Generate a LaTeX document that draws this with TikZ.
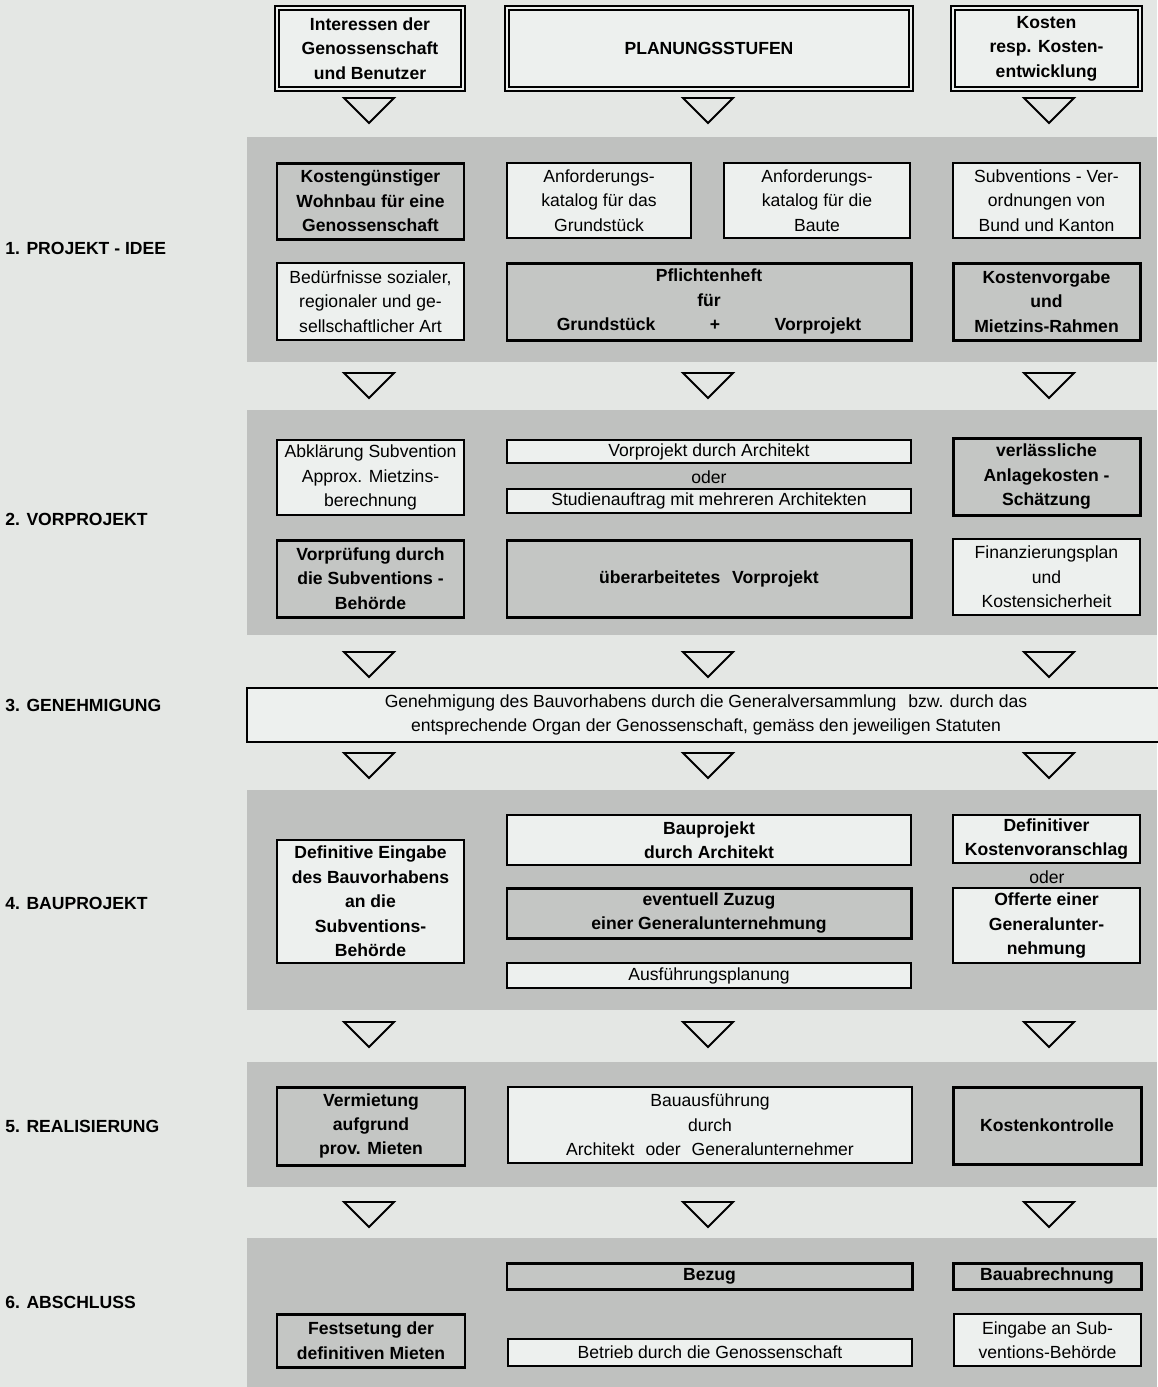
\documentclass[tikz,border=0pt]{standalone}
\usepackage{fontspec}
\setmainfont{Liberation Sans}
\definecolor{bgc}{HTML}{E4E7E4}
\definecolor{bandc}{HTML}{BFC1BF}
\definecolor{litec}{HTML}{EDF0EE}
\definecolor{heavyc}{HTML}{C4C6C4}
\newcommand\bx[7]{\node[#6, minimum width={(#4-#2)*0.02cm}, minimum height={(#5-#3)*0.02cm}] (#1) at ({(#2+#4)/2},{(#3+#5)/2}) {#7};}
\begin{document}
\begin{tikzpicture}[x=0.02cm,y=-0.02cm,
  txt/.style={font=\fontsize{10}{13.9}\selectfont, align=center, inner sep=0pt, outer sep=0pt},
  lite/.style={txt, draw, line width=0.85pt, fill=litec},
  heavy/.style={txt, draw, line width=1.7pt, fill=heavyc},
  dbl/.style={txt, draw, line width=0.8pt, double=litec, double distance=1.6pt, fill=litec},
  bf/.style={font=\bfseries\fontsize{10}{13.9}\selectfont},
  bandbox/.style={fill=bandc},
  phase/.style={font=\bfseries\fontsize{10}{12}\selectfont, anchor=west, inner sep=0pt},
  dtri/.pic={\draw[line width=1.1pt, line join=miter] (-25,0) -- (25,0) -- (0,25) -- cycle;}
]
\useasboundingbox (0,0) rectangle (1157,1387);
\fill[bgc] (0,0) rectangle (1157,1387);
% bands
\fill[bandbox] (247,137) rectangle (1157,362);
\fill[bandbox] (247,410) rectangle (1157,635);
\fill[bandbox] (247,790) rectangle (1157,1010);
\fill[bandbox] (247,1062) rectangle (1157,1187);
\fill[bandbox] (247,1238) rectangle (1157,1387);

% top row
\bx{top1}{277}{8}{463}{89}{dbl, bf}{Interessen der\\Genossenschaft\\und Benutzer}
\bx{top2}{507}{8}{911}{89}{dbl, bf}{PLANUNGSSTUFEN}
\bx{top3}{953}{8}{1140}{89}{dbl, bf}{Kosten\\resp. Kosten-\\entwicklung}

% triangles
\foreach \yy/\nm in {98/a,373/b,652/c,753/d,1022/e,1202/f}{
  \pic (tl\nm) at (369,\yy) {dtri};
  \pic (tm\nm) at (708,\yy) {dtri};
  \pic (tr\nm) at (1049,\yy) {dtri};
}

% phase labels
\node[phase] (p1) at (5,248) {1. PROJEKT - IDEE};
\node[phase] (p2) at (5,519) {2. VORPROJEKT};
\node[phase] (p3) at (5,705) {3. GENEHMIGUNG};
\node[phase] (p4) at (5,903) {4. BAUPROJEKT};
\node[phase] (p5) at (5,1126) {5. REALISIERUNG};
\node[phase] (p6) at (5,1302) {6. ABSCHLUSS};

% band 1
\bx{a1}{277}{163}{464}{239}{heavy, bf}{Kostengünstiger\\Wohnbau für eine\\Genossenschaft}
\bx{a2}{507}{163}{691}{238}{lite}{Anforderungs-\\katalog für das\\Grundstück}
\bx{a3}{724}{163}{910}{238}{lite}{Anforderungs-\\katalog für die\\Baute}
\bx{a4}{953}{163}{1140}{238}{lite}{Subventions - Ver-\\ordnungen von\\Bund und Kanton}
\bx{b1}{277}{263}{464}{340}{lite}{Bedürfnisse sozialer,\\regionaler und ge-\\sellschaftlicher Art}
\bx{b2}{507}{263}{911}{340}{heavy, bf}{Pflichtenheft\\für\\Grundstück\hspace{31pt}+\hspace{31pt}Vorprojekt}
\bx{b3}{953}{263}{1140}{340}{heavy, bf}{Kostenvorgabe\\und\\Mietzins-Rahmen}

% band 2
\bx{c1}{277}{440}{464}{515}{lite}{Abklärung Subvention\\Approx. Mietzins-\\berechnung}
\bx{c2a}{507}{440}{911}{463}{lite}{Vorprojekt durch Architekt}
\node[txt] (c2o) at (709,477) {oder};
\bx{c2b}{507}{489}{911}{513}{lite}{Studienauftrag mit mehreren Architekten}
\bx{c3}{953}{438}{1140}{515}{heavy, bf}{verlässliche\\Anlagekosten -\\Schätzung}
\bx{d1}{277}{540}{464}{617}{heavy, bf}{Vorprüfung durch\\die Subventions -\\Behörde}
\bx{d2}{507}{540}{911}{617}{heavy, bf}{überarbeitetes\hspace{0.4em} Vorprojekt}
\bx{d3}{953}{539}{1140}{615}{lite}{Finanzierungsplan\\und\\Kostensicherheit}

% Genehmigung
\bx{gen}{247}{688}{1165}{742}{lite}{Genehmigung des Bauvorhabens durch die Generalversammlung\hspace{0.4em} bzw. durch das\\entsprechende Organ der Genossenschaft, gemäss den jeweiligen Statuten}

% band 3
\bx{e1}{277}{840}{464}{963}{lite, bf}{Definitive Eingabe\\des Bauvorhabens\\an die\\Subventions-\\Behörde}
\bx{e2a}{507}{815}{911}{865}{lite, bf}{Bauprojekt\\durch Architekt}
\bx{e2b}{507}{888}{911}{938}{heavy, bf}{eventuell Zuzug\\einer Generalunternehmung}
\bx{e2c}{507}{963}{911}{988}{lite}{Ausführungsplanung}
\bx{e3a}{953}{815}{1140}{863}{lite, bf}{Definitiver\\Kostenvoranschlag}
\node[txt] (e3o) at (1047,877) {oder};
\bx{e3b}{953}{888}{1140}{963}{lite, bf}{Offerte einer\\Generalunter-\\nehmung}

% band 4
\bx{f1}{277}{1087}{465}{1165}{heavy, bf}{Vermietung\\aufgrund\\prov. Mieten}
\bx{f2}{508}{1087}{912}{1163}{lite}{Bauausführung\\durch\\Architekt\hspace{0.35em} oder\hspace{0.35em} Generalunternehmer}
\bx{f3}{953}{1087}{1141}{1164}{heavy, bf}{Kostenkontrolle}

% band 5
\bx{g2}{507}{1263}{912}{1289}{heavy, bf}{Bezug}
\bx{g3}{953}{1263}{1141}{1289}{heavy, bf}{Bauabrechnung}
\bx{h1}{277}{1314}{465}{1367}{heavy, bf}{Festsetung der\\definitiven Mieten}
\bx{h2}{508}{1339}{912}{1366}{lite}{Betrieb durch die Genossenschaft}
\bx{h3}{954}{1314}{1141}{1366}{lite}{Eingabe an Sub-\\ventions-Behörde}
\end{tikzpicture}
\end{document}
